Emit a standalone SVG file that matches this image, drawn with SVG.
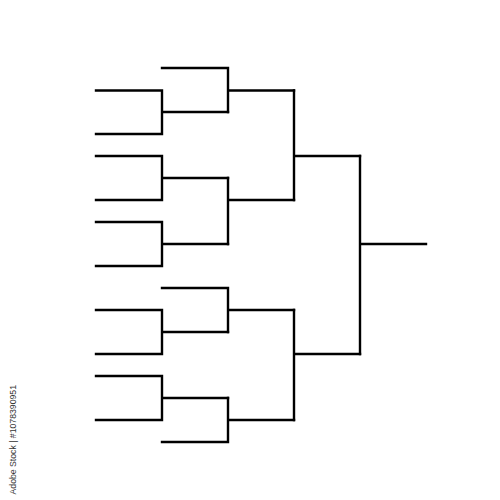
<svg xmlns="http://www.w3.org/2000/svg" width="500" height="500" viewBox="0 0 500 500">
<style>
.b{fill:none;stroke:#000;stroke-width:2.4;stroke-linecap:square;stroke-linejoin:miter}
.id{font-family:"Liberation Sans",Arial,sans-serif;font-size:8.7px;fill:#333}
</style>
<rect width="500" height="500" fill="#fff"/>
<g id="connectors">
<g id="r1-pair1"><path class="b" d="M96,90.5 H162 V134 H96 M162,112 H228"/></g>
<g id="r1-pair2"><path class="b" d="M96,156 H162 V200 H96 M162,178 H228"/></g>
<g id="r1-pair3"><path class="b" d="M96,222 H162 V266 H96 M162,244 H228"/></g>
<g id="r1-pair4"><path class="b" d="M96,310 H162 V354 H96 M162,332 H228"/></g>
<g id="r1-pair5"><path class="b" d="M96,376 H162 V420 H96 M162,398 H228"/></g>
<g id="r2-a"><path class="b" d="M162,68 H228 V112 M228,90.5 H294"/></g>
<g id="r2-b"><path class="b" d="M228,178 V244 M228,200 H294"/></g>
<g id="r2-c"><path class="b" d="M162,288 H228 V332 M228,310 H294"/></g>
<g id="r2-d"><path class="b" d="M162,442 H228 V398 M228,420 H294"/></g>
<g id="r3-top"><path class="b" d="M294,90.5 V200 M294,156 H360"/></g>
<g id="r3-bottom"><path class="b" d="M294,310 V420 M294,354 H360"/></g>
<g id="final"><path class="b" d="M360,156 V354 M360,244 H426"/></g>
</g>
<text class="id" transform="translate(16,385) rotate(-90)" text-anchor="end">Adobe Stock | #1078390951</text>
</svg>
